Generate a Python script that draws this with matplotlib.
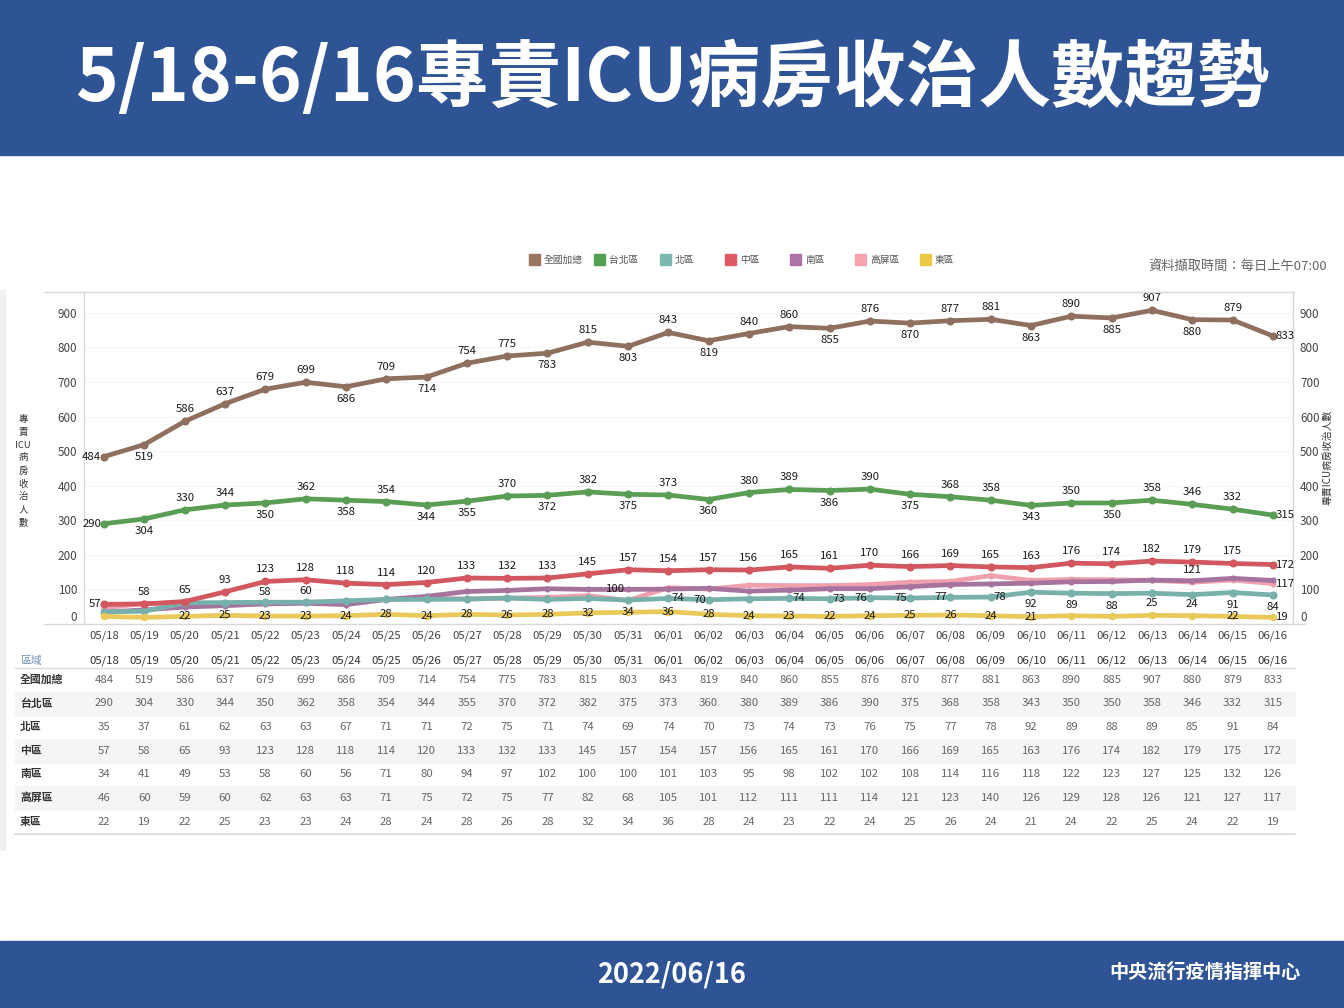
import matplotlib
matplotlib.use("Agg")
import matplotlib.pyplot as plt
from matplotlib.patches import Rectangle
from matplotlib.lines import Line2D
from matplotlib.transforms import blended_transform_factory

plt.rcParams["font.family"] = ["Noto Sans CJK TC", "DejaVu Sans"]

W, H = 1344, 1008

dates = ["05/18", "05/19", "05/20", "05/21", "05/22", "05/23", "05/24", "05/25", "05/26", "05/27",
         "05/28", "05/29", "05/30", "05/31", "06/01", "06/02", "06/03", "06/04", "06/05", "06/06",
         "06/07", "06/08", "06/09", "06/10", "06/11", "06/12", "06/13", "06/14", "06/15", "06/16"]
total = [484, 519, 586, 637, 679, 699, 686, 709, 714, 754, 775, 783, 815, 803, 843,
         819, 840, 860, 855, 876, 870, 877, 881, 863, 890, 885, 907, 880, 879, 833]
taipei = [290, 304, 330, 344, 350, 362, 358, 354, 344, 355, 370, 372, 382, 375, 373,
          360, 380, 389, 386, 390, 375, 368, 358, 343, 350, 350, 358, 346, 332, 315]
north = [35, 37, 61, 62, 63, 63, 67, 71, 71, 72, 75, 71, 74, 69, 74,
         70, 73, 74, 73, 76, 75, 77, 78, 92, 89, 88, 89, 85, 91, 84]
central = [57, 58, 65, 93, 123, 128, 118, 114, 120, 133, 132, 133, 145, 157, 154,
           157, 156, 165, 161, 170, 166, 169, 165, 163, 176, 174, 182, 179, 175, 172]
south = [34, 41, 49, 53, 58, 60, 56, 71, 80, 94, 97, 102, 100, 100, 101,
         103, 95, 98, 102, 102, 108, 114, 116, 118, 122, 123, 127, 125, 132, 126]
kaoping = [46, 60, 59, 60, 62, 63, 63, 71, 75, 72, 75, 77, 82, 68, 105,
           101, 112, 111, 111, 114, 121, 123, 140, 126, 129, 128, 126, 121, 127, 117]
east = [22, 19, 22, 25, 23, 23, 24, 28, 24, 28, 26, 28, 32, 34, 36,
        28, 24, 23, 22, 24, 25, 26, 24, 21, 24, 22, 25, 24, 22, 19]
names = ["全國加總", "台北區", "北區", "中區", "南區", "高屏區", "東區"]
series = [total, taipei, north, central, south, kaoping, east]
colors = ["#8F6F5E", "#5A9E56", "#78B0AB", "#D2575F", "#A5739E", "#F0A0AC", "#E8C95A"]
legend_colors = ["#9A7562", "#55A055", "#7AB8B0", "#DC5A60", "#AC73A4", "#F6A3B0", "#EBC845"]
marker_sizes = [4.8, 4.8, 4.8, 4.8, 3.4, 3.4, 4.4]

# 라벨 위치: a 위, b 아래, l 왼쪽, r 오른쪽, c 점 위, - 없음
label_pos = [
    "lbaaaababa" + "abababaaba" + "baabababar",
    "lbaabababb" + "abababaaba" + "baababaaar",
    "-" * 14 + "rl-rrlllrbbb--bb",
    "l" + "a" * 28 + "r",
    "----aa-------l" + "-" * 16,
    "-" * 27 + "a-r",
    "--" + "c" * 22 + "--aacr",
]
draw_order = [0, 1, 5, 4, 2, 3, 6]
offsets = {"a": (0, 12, "center", "center"), "b": (0, -12, "center", "center"),
           "l": (-3, 0, "right", "center"), "r": (3, 0, "left", "center"),
           "c": (0, 0, "center", "center")}


def fy(px):
    return 1 - px / H


fig = plt.figure(figsize=(W / 100, H / 100), dpi=100, facecolor="white")

# 상단/하단 배너
bar = "#2F5496"
fig.add_artist(Rectangle((0, fy(155)), 1, 155 / H, transform=fig.transFigure, color=bar))
fig.add_artist(Rectangle((0, 0), 1, 67 / H, transform=fig.transFigure, color=bar))
fig.add_artist(Rectangle((0, fy(850)), 5 / W, 560 / H, transform=fig.transFigure, color="#F0F0F0"))
fig.text(672 / W, fy(79), "5/18-6/16專責ICU病房收治人數趨勢", color="white", fontsize=52.4,
         fontweight="bold", ha="center", va="center")
fig.text(672 / W, fy(974), "2022/06/16", color="white", fontsize=19.5, fontweight="bold", ha="center", va="center")
fig.text(1205 / W, fy(972), "中央流行疫情指揮中心", color="white", fontsize=13.8, fontweight="bold",
         ha="center", va="center")

ax = fig.add_axes([84 / W, fy(624), (1293 - 84) / W, (624 - 292) / H])
x = list(range(len(dates)))
ax.set_xlim(-0.5, 29.5)
ax.set_ylim(0, 960)

for i in draw_order:
    ax.plot(x, series[i], color=colors[i], lw=3.4, marker="o", ms=marker_sizes[i], clip_on=False,
            solid_joinstyle="round", zorder=3 + draw_order.index(i) * 0.1)

for vals, pos in zip(series, label_pos):
    for j, (v, p) in enumerate(zip(vals, pos)):
        if p == "-":
            continue
        dx, dy, ha, va = offsets[p]
        ax.annotate(str(v), (j, v), xytext=(dx * 0.72, dy * 0.72), textcoords="offset points",
                    ha=ha, va=va, fontsize=8.2, fontweight="medium", color="#1A1A1A", zorder=6,
                    annotation_clip=False)

yticks = list(range(0, 1000, 100))
ax.set_yticks(yticks)
ax.set_xticks(x)
ax.set_xticklabels(dates, fontsize=8.2, color="#444444")
ax.tick_params(axis="x", length=0, pad=4.5)
ax.tick_params(axis="y", length=0, pad=5, labelsize=8.4, labelcolor="#444444")
ax.grid(axis="y", color="#F5F5F5", lw=0.8)
ax.set_axisbelow(True)
for s in ["top", "bottom"]:
    ax.spines[s].set_visible(False)
for s in ["left", "right"]:
    ax.spines[s].set_color("#D9D9D9")
    ax.spines[s].set_linewidth(1)

ax2 = ax.twinx()
ax2.set_ylim(ax.get_ylim())
ax2.set_yticks(yticks)
ax2.tick_params(axis="y", length=0, pad=5, labelsize=8.4, labelcolor="#444444")
for s in ax2.spines.values():
    s.set_visible(False)
for a in (ax, ax2):
    a.get_yticklabels()[0].set_verticalalignment("bottom")

fig.add_artist(Line2D([44 / W, 1294 / W], [fy(292), fy(292)], color="#D9D9D9", lw=1))
fig.add_artist(Line2D([44 / W, 1305 / W], [fy(624), fy(624)], color="#D9D9D9", lw=1))

# 축 제목
ylabel_parts = ["專", "責", "ICU", "病", "房", "收", "治", "人", "數"]
for k, part in enumerate(ylabel_parts):
    fig.text(23 / W, fy(419 + k * 13), part, fontsize=6.8, color="#333333", ha="center", va="center")
fig.text(1327 / W, fy(457), "專責ICU病房收治人數", fontsize=7.1, color="#333333", rotation=90, ha="center", va="center")

# 범례
legend_x = [529, 594, 660, 725, 790, 855, 920]
for lx, c, n in zip(legend_x, legend_colors, names):
    fig.add_artist(Rectangle((lx / W, fy(265)), 11 / W, 11 / H, transform=fig.transFigure, color=c))
    fig.text((lx + 15) / W, fy(259.5), n, fontsize=7, color="#555555", ha="left", va="center")
fig.text(1327 / W, fy(266), "資料擷取時間：每日上午07:00", fontsize=9.5, color="#666666", ha="right", va="center")

# 하단 표
tf = blended_transform_factory(ax.transData, fig.transFigure)
row_y = [680, 703.5, 727, 751, 774, 798, 822]
for k in (1, 3, 5):
    fig.add_artist(Rectangle((15 / W, fy(row_y[k] + 12)), 1280 / W, 24 / H, transform=fig.transFigure,
                             color="#F5F5F5", zorder=0))
fig.add_artist(Line2D([15 / W, 1295 / W], [fy(668), fy(668)], color="#D9D9D9", lw=1))
fig.add_artist(Line2D([15 / W, 1295 / W], [fy(834), fy(834)], color="#D9D9D9", lw=1.2))
fig.text(20 / W, fy(661), "區域", fontsize=7.8, color="#6F8FB0", ha="left", va="center")
for j, d in enumerate(dates):
    ax.text(j, fy(661), d, transform=tf, fontsize=8.2, color="#333333", ha="center", va="center", clip_on=False)
for name, vals, y in zip(names, series, row_y):
    fig.text(20 / W, fy(y), name, fontsize=7.8, color="#333333", fontweight="bold", ha="left", va="center")
    for j, v in enumerate(vals):
        ax.text(j, fy(y), str(v), transform=tf, fontsize=8.2, color="#666666", ha="center", va="center", clip_on=False)

fig.savefig("out.png", dpi=100)
